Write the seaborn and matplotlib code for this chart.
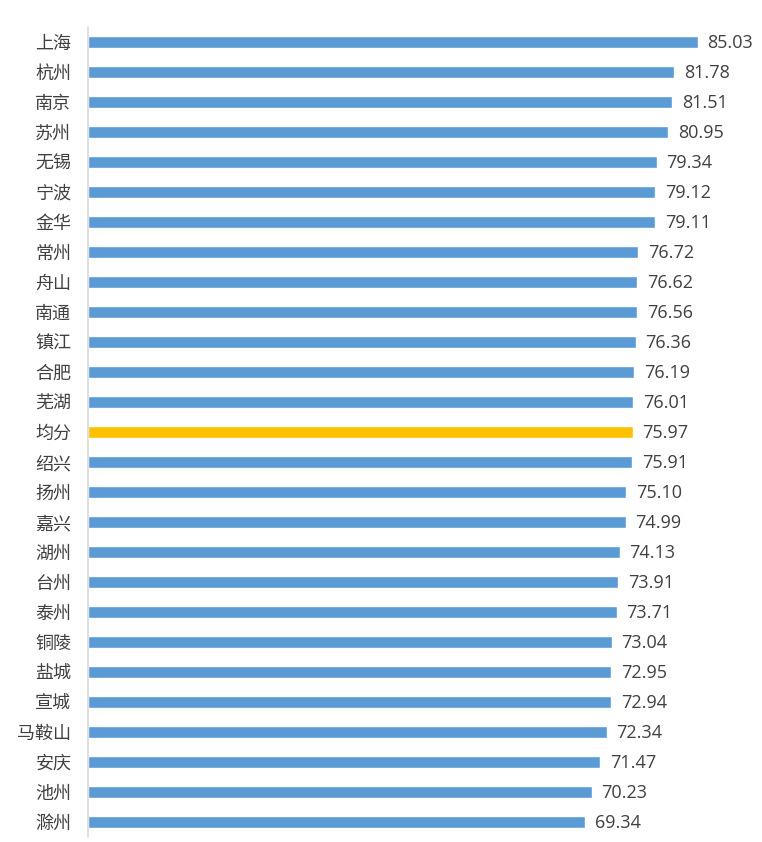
import matplotlib.pyplot as plt
import seaborn as sns
import pandas as pd

cities = ["上海", "杭州", "南京", "苏州", "无锡", "宁波", "金华", "常州", "舟山",
          "南通", "镇江", "合肥", "芜湖", "均分", "绍兴", "扬州", "嘉兴", "湖州",
          "台州", "泰州", "铜陵", "盐城", "宣城", "马鞍山", "安庆", "池州", "滁州"]
scores = [85.03, 81.78, 81.51, 80.95, 79.34, 79.12, 79.11, 76.72, 76.62,
          76.56, 76.36, 76.19, 76.01, 75.97, 75.91, 75.10, 74.99, 74.13,
          73.91, 73.71, 73.04, 72.95, 72.94, 72.34, 71.47, 70.23, 69.34]

df = pd.DataFrame({"city": cities, "score": scores})
df["kind"] = ["avg" if c == "均分" else "city" for c in cities]

sns.set_style("white")
plt.rcParams['font.family'] = ['Noto Sans CJK SC', 'DejaVu Sans']

fig = plt.figure(figsize=(7.62, 8.42), dpi=100)
ax = fig.add_axes([88 / 762, 5 / 842, 674 / 762, 810 / 842])

sns.barplot(data=df, x="score", y="city", hue="kind",
            palette={"city": "#5B9BD5", "avg": "#FFC000"},
            width=0.38, dodge=False, legend=False, ax=ax, saturation=1)

for i, v in enumerate(scores):
    ax.annotate(f"{v:.2f}", (v, i), xytext=(7, -1), textcoords="offset points",
                ha="left", va="center", fontsize=13, color="#404040",
                family=["Open Sans", "DejaVu Sans"])

ax.set_xlim(0, 94)
ax.set_ylim(26.5, -0.5)
ax.set_xlabel("")
ax.set_ylabel("")
ax.set_xticks([])
for s in ["top", "right", "bottom"]:
    ax.spines[s].set_visible(False)
ax.spines["left"].set_color("#d9d9d9")
ax.spines["left"].set_linewidth(1.2)
ax.tick_params(axis="y", length=0, pad=12, labelsize=13, labelcolor="#404040")

fig.savefig("out.png", dpi=100)
